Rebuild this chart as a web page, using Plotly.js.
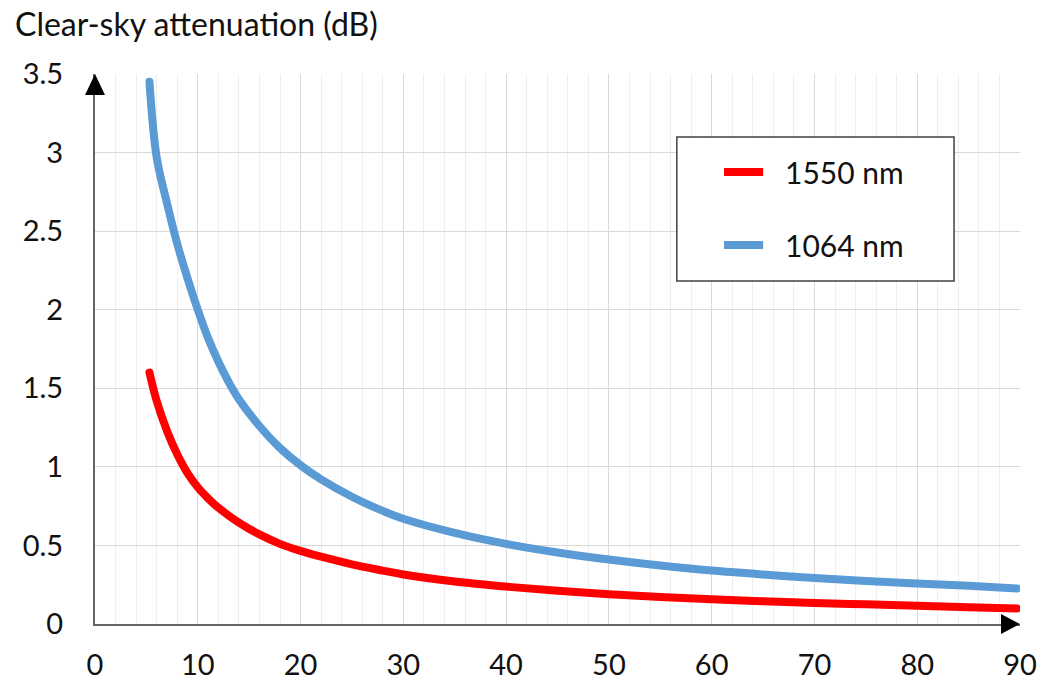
<!DOCTYPE html>
<html>
<head>
<meta charset="utf-8">
<script src="https://cdn.plot.ly/plotly-3.0.1.min.js"></script>
<style>html,body{margin:0;padding:0;background:#fff}#chart{width:1057px;height:683px}
.scatterlayer path.js-line{stroke-linecap:round}</style>
</head>
<body>
<div id="chart"></div>
<script>
// Elevation angle (deg) and clear-sky attenuation (dB)
const elev1550 = [5.3, 6, 7, 8, 9, 10, 11, 12, 14, 16, 18, 20, 22, 25, 28, 30, 35, 40, 45, 50, 55, 60, 65, 70, 75, 80, 85, 89.7];
const att1550  = [1.6, 1.42, 1.23, 1.08, 0.96, 0.87, 0.80, 0.74, 0.645, 0.57, 0.51, 0.465, 0.428, 0.38, 0.34, 0.315, 0.27, 0.238, 0.212, 0.19, 0.172, 0.157, 0.145, 0.134, 0.125, 0.116, 0.106, 0.098];
const elev1064 = [5.3, 6, 7, 8, 9, 10, 11, 12, 13, 14, 16, 18, 20, 22, 25, 28, 30, 35, 40, 45, 50, 55, 60, 65, 70, 75, 80, 85, 89.7];
const att1064  = [3.45, 2.97, 2.68, 2.42, 2.2, 2.0, 1.82, 1.67, 1.54, 1.43, 1.26, 1.12, 1.01, 0.92, 0.81, 0.72, 0.67, 0.58, 0.51, 0.455, 0.41, 0.372, 0.34, 0.315, 0.293, 0.274, 0.258, 0.243, 0.226];
const seriesNames = ['1550 nm', '1064 nm'];
const seriesColors = ['#ff0000', '#5b9bd5'];
const yTitle = 'Clear-sky attenuation (dB)';

const FONT = 'Lato, "Open Sans", "DejaVu Sans", sans-serif';

const traces = [
  {x: elev1550, y: att1550, name: seriesNames[0], mode: 'lines',
   line: {color: seriesColors[0], width: 8, shape: 'spline', smoothing: 1}, showlegend: false},
  {x: elev1064, y: att1064, name: seriesNames[1], mode: 'lines',
   line: {color: seriesColors[1], width: 8, shape: 'spline', smoothing: 1}, showlegend: false}
];

// custom legend geometry (paper coords)
const legX0 = 0.629, legX1 = 0.9287, legY0 = 0.6236, legY1 = 0.8855;
const legRowY = [0.8218, 0.689];
const legLineX0 = 0.680, legLineX1 = 0.7223, legTextX = 0.744;

const shapes = [
  // y-axis arrow head
  {type: 'path', xref: 'paper', yref: 'paper', xsizemode: 'pixel', ysizemode: 'pixel',
   xanchor: 0, yanchor: 1, path: 'M-10,-21 L10,-21 L0,0 Z',
   fillcolor: '#000', line: {width: 0}},
  // x-axis arrow head
  {type: 'path', xref: 'paper', yref: 'paper', xsizemode: 'pixel', ysizemode: 'pixel',
   xanchor: 1, yanchor: 0, path: 'M0,0 L-19,10 L-19,-10 Z',
   fillcolor: '#000', line: {width: 0}},
  // legend box
  {type: 'rect', xref: 'paper', yref: 'paper', x0: legX0, x1: legX1, y0: legY0, y1: legY1,
   fillcolor: '#fff', line: {color: '#404040', width: 1.5}}
];
const annotations = [];
seriesNames.forEach((n, i) => {
  shapes.push({type: 'line', xref: 'paper', yref: 'paper', x0: legLineX0, x1: legLineX1,
    y0: legRowY[i], y1: legRowY[i], line: {color: seriesColors[i], width: 8}});
  annotations.push({xref: 'paper', yref: 'paper', x: legTextX, y: legRowY[i], text: n,
    showarrow: false, xanchor: 'left', yanchor: 'middle',
    font: {family: FONT, size: 30, color: '#111'}});
});

const layout = {
  width: 1057, height: 683,
  margin: {l: 94.5, r: 37, t: 74, b: 59, pad: 0},
  paper_bgcolor: '#fff', plot_bgcolor: '#fff',
  font: {family: FONT, size: 29, color: '#111'},
  title: {text: yTitle, x: 15 / 1057, xref: 'container', xanchor: 'left',
          y: 1 - 25 / 683, yref: 'container', yanchor: 'middle',
          font: {family: FONT, size: 32, color: '#111'}},
  showlegend: false,
  xaxis: {range: [0, 90], dtick: 10, tick0: 0, showgrid: true, gridcolor: '#d9d9d9', gridwidth: 1,
          minor: {dtick: 2, showgrid: true, gridcolor: '#eeeeee', gridwidth: 1, ticks: ''},
          zeroline: false, showline: true, linecolor: '#666666', linewidth: 2,
          ticks: '', ticklabelstandoff: 14, fixedrange: true},
  yaxis: {range: [0, 3.5], dtick: 0.5, tick0: 0, showgrid: true, gridcolor: '#d9d9d9', gridwidth: 1,
          zeroline: false, showline: true, linecolor: '#666666', linewidth: 2,
          ticks: '', ticklabelstandoff: 24, fixedrange: true},
  shapes: shapes,
  annotations: annotations
};

Plotly.newPlot('chart', traces, layout, {displayModeBar: false, staticPlot: true});
</script>
</body>
</html>
